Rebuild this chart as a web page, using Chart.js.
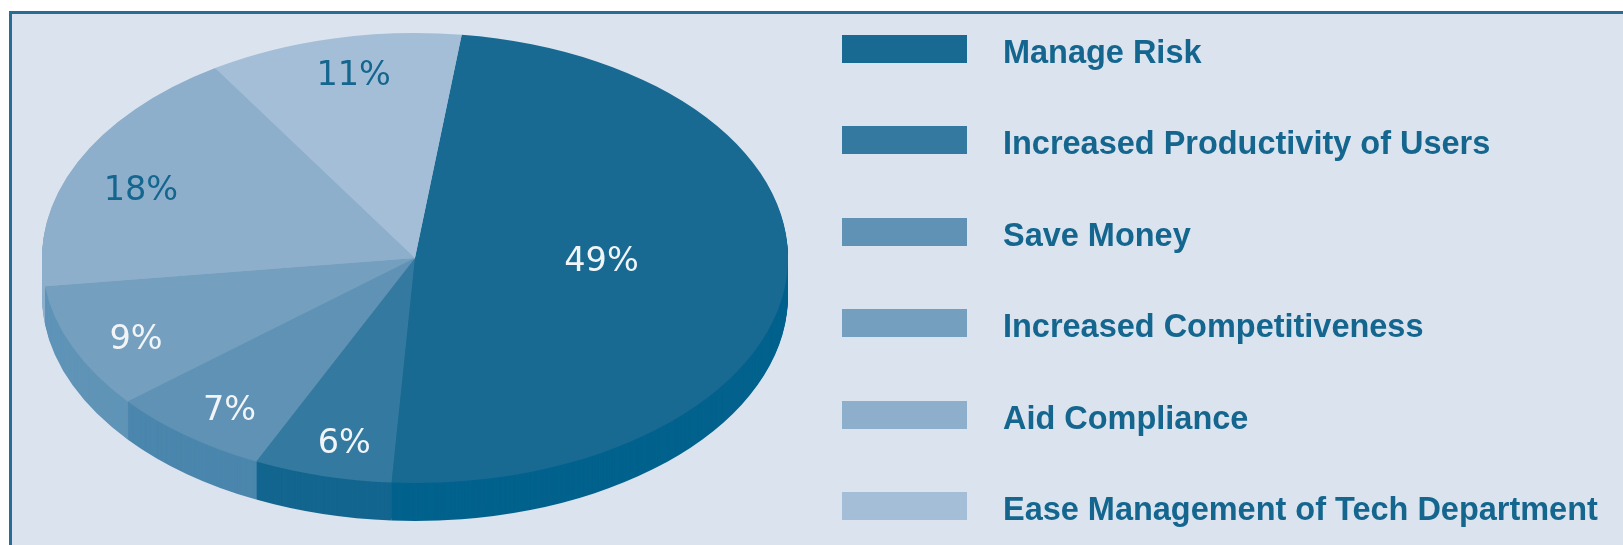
<!DOCTYPE html>
<html>
<head>
<meta charset="utf-8">
<title>Pie chart</title>
<script src="https://cdn.jsdelivr.net/npm/chart.js@4"></script>
<style>
    html, body { margin: 0; height: 100%; background: #fff; overflow: hidden; }
    #panel {
        position: absolute; left: 9px; top: 11px; width: 1640px; height: 560px;
        background: #dae3ee; border: 3px solid #2a6d94; box-sizing: border-box;
    }
    /* the reference is a soft scan */
    canvas { position: absolute; left: 0; top: 0; filter: blur(0.7px); }
    #legend { position: absolute; left: 842px; top: 35px; filter: blur(0.6px); }
    .row { position: absolute; left: 0; height: 28px; white-space: nowrap; }
    .swatch { position: absolute; left: 0; top: 0; width: 125px; height: 28px; }
    .name {
        position: absolute; left: 161px; top: -6px;
        font: bold 34px/44px "Liberation Sans", sans-serif;
        color: #14668f;
        transform: scaleX(0.955);
        transform-origin: left center;
    }
</style>
</head>
<body>
<div id="panel"></div>
<canvas id="pie" width="1623" height="545"></canvas>
<div id="legend"></div>

<script>
const categories = ['Manage Risk', 'Increased Productivity of Users', 'Save Money',
    'Increased Competitiveness', 'Aid Compliance', 'Ease Management of Tech Department'];
const shares = [49, 6, 7, 9, 18, 11];
const topColors = ['#186a93', '#34799f', '#5f92b4', '#749fbf', '#8dafcb', '#a3bed6'];
const sideColors = ['#02628d', '#13668f', '#4b86ad', '#5f94b7', '#8dafcb', '#a3bed6'];
const labelColors = ['#f2f5f8', '#f2f5f8', '#f2f5f8', '#f2f5f8', '#14668f', '#14668f'];

// where each percentage sits inside its slice
const labelRadius = [0.5, 0.83, 0.83, 0.825, 0.80, 0.84];
const labelTurn = [-5.4, -1.2, -1, -1.6, -1.9, 1.3];

const squashX = 373 / 225; // pie is tilted, so wider than tall
const depth = 38;

const tiltPlugin = {
    id: 'tilt',
    beforeDatasetsDraw(chart) {
        const ctx = chart.ctx;
        const arcs = chart.getDatasetMeta(0).data;
        const cx = arcs[0].x;
        ctx.save();
        // stretch around the centre of the pie
        ctx.translate(cx, 0);
        ctx.scale(squashX, 1);
        ctx.translate(-cx, 0);
        // thickness: same slices stacked downwards in the side colours
        for (let d = depth; d > 0; d--) {
            arcs.forEach((arc, i) => {
                ctx.fillStyle = sideColors[i];
                ctx.beginPath();
                ctx.moveTo(arc.x, arc.y + d);
                ctx.arc(arc.x, arc.y + d, arc.outerRadius, arc.startAngle, arc.endAngle);
                ctx.closePath();
                ctx.fill();
            });
        }
    },
    afterDatasetsDraw(chart) {
        const ctx = chart.ctx;
        ctx.restore();
        // percent labels on the top face
        ctx.save();
        ctx.font = '33.5px "DejaVu Sans"';
        ctx.textAlign = 'center';
        ctx.textBaseline = 'middle';
        chart.getDatasetMeta(0).data.forEach((arc, i) => {
            const mid = (arc.startAngle + arc.endAngle) / 2 + labelTurn[i] * Math.PI / 180;
            const r = arc.outerRadius * labelRadius[i];
            ctx.fillStyle = labelColors[i];
            ctx.fillText(shares[i] + '%', arc.x + Math.cos(mid) * r * squashX, arc.y + Math.sin(mid) * r + 4);
        });
        ctx.restore();
    }
};

new Chart(document.getElementById('pie').getContext('2d'), {
    type: 'pie',
    data: {
        labels: categories,
        datasets: [{
            data: shares,
            backgroundColor: topColors,
            borderWidth: 0,
            clip: false
        }]
    },
    options: {
        responsive: false,
        animation: false,
        rotation: 7.2,
        layout: { padding: { left: 0, right: 793, top: 33, bottom: 62 } },
        plugins: {
            legend: { display: false },
            tooltip: { enabled: false }
        }
    },
    plugins: [tiltPlugin]
});

// legend on the right
const legend = document.getElementById('legend');
categories.forEach((name, i) => {
    const row = document.createElement('div');
    row.className = 'row';
    row.style.top = (i * 91.4) + 'px';
    const swatch = document.createElement('div');
    swatch.className = 'swatch';
    swatch.style.background = topColors[i];
    const text = document.createElement('div');
    text.className = 'name';
    text.textContent = name;
    row.append(swatch, text);
    legend.append(row);
});
</script>
</body>
</html>
